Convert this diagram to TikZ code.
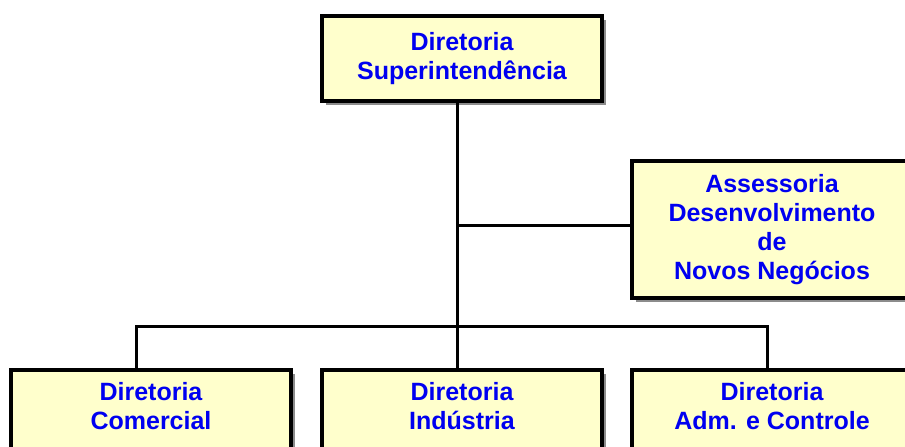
\documentclass[tikz,border=0pt]{standalone}
\usepackage{fontspec}
\setmainfont{Liberation Sans}
\usetikzlibrary{shadows}

\definecolor{boxfill}{RGB}{255,255,204}
\definecolor{boxtext}{RGB}{0,0,240}

\tikzstyle{line} = [draw, line width=3pt]
\tikzstyle{unit} = [draw, line width=3.5pt, fill=boxfill, text=boxtext,
  minimum width=280pt, align=center, inner sep=0pt,
  font=\bfseries\fontsize{25}{29}\selectfont,
  drop shadow={shadow xshift=4pt, shadow yshift=-4pt, fill=gray!90, opacity=1}]

\begin{document}
\begin{tikzpicture}[x=1pt,y=-1pt]
\useasboundingbox (0,0) rectangle (905,447);
%boxes
\node[unit, minimum height=85pt] (sup) at (462,58.5) {Diretoria\\Superintend\^encia};
\node[unit, minimum height=137pt] (ass) at (772,229.5) {Assessoria\\Desenvolvimento\\de\\Novos Neg\'ocios};
\node[unit, minimum height=80pt, text depth=8pt, anchor=north] (com) at (151,368) {Diretoria\\Comercial};
\node[unit, minimum height=80pt, text depth=8pt, anchor=north] (ind) at (462,368) {Diretoria\\Ind\'ustria};
\node[unit, minimum height=80pt, text depth=8pt, anchor=north] (adm) at (772,368) {Diretoria\\Adm. e Controle};

%lines
\coordinate (trunk) at (457,0);
\coordinate (bl) at (136,326);% left end of bus
\coordinate (br) at (767,326);% right end of bus
\coordinate (side) at (457,225);% branch to assessoria
\path [line] (trunk |- sup.south) -- (trunk |- ind.north);
\path [line] (side) -- (side -| ass.west);
\path [line] (bl |- com.north) -- (bl) -- (br) -- (br |- adm.north);
\end{tikzpicture}
\end{document}
